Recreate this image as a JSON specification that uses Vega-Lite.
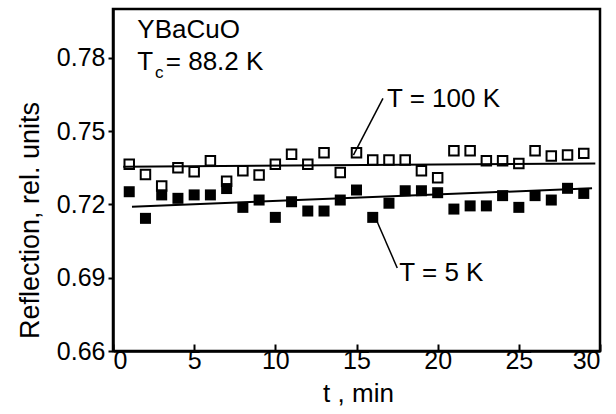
{
  "$schema": "https://vega.github.io/schema/vega-lite/v6.json",
  "width": 487,
  "height": 342,
  "autosize": {"type": "none"},
  "padding": {"left": 113, "top": 9, "right": 16, "bottom": 63},
  "background": "white",
  "config": {
    "view": {"stroke": "black", "strokeWidth": 2.5},
    "font": "Liberation Sans",
    "axis": {
      "grid": false,
      "domainColor": "black",
      "domainWidth": 2.5,
      "tickColor": "black",
      "tickWidth": 2,
      "labelColor": "black",
      "titleColor": "black",
      "labelFont": "Liberation Sans",
      "labelFontSize": 25,
      "titleFont": "Liberation Sans",
      "titleFontSize": 26,
      "titleFontWeight": "normal"
    }
  },
  "datasets": {
    "points": [
      {"series": "T = 100 K", "t": 1, "v": 0.7364}, {"series": "T = 100 K", "t": 2, "v": 0.7323},
      {"series": "T = 100 K", "t": 3, "v": 0.7275}, {"series": "T = 100 K", "t": 4, "v": 0.7350},
      {"series": "T = 100 K", "t": 5, "v": 0.7334}, {"series": "T = 100 K", "t": 6, "v": 0.7379},
      {"series": "T = 100 K", "t": 7, "v": 0.7295}, {"series": "T = 100 K", "t": 8, "v": 0.7338},
      {"series": "T = 100 K", "t": 9, "v": 0.7320}, {"series": "T = 100 K", "t": 10, "v": 0.7364},
      {"series": "T = 100 K", "t": 11, "v": 0.7405}, {"series": "T = 100 K", "t": 12, "v": 0.7364},
      {"series": "T = 100 K", "t": 13, "v": 0.7412}, {"series": "T = 100 K", "t": 14, "v": 0.7331},
      {"series": "T = 100 K", "t": 15, "v": 0.7412}, {"series": "T = 100 K", "t": 16, "v": 0.7382},
      {"series": "T = 100 K", "t": 17, "v": 0.7382}, {"series": "T = 100 K", "t": 18, "v": 0.7382},
      {"series": "T = 100 K", "t": 19, "v": 0.7338}, {"series": "T = 100 K", "t": 20, "v": 0.7309},
      {"series": "T = 100 K", "t": 21, "v": 0.7420}, {"series": "T = 100 K", "t": 22, "v": 0.7420},
      {"series": "T = 100 K", "t": 23, "v": 0.7379}, {"series": "T = 100 K", "t": 24, "v": 0.7379},
      {"series": "T = 100 K", "t": 25, "v": 0.7368}, {"series": "T = 100 K", "t": 26, "v": 0.7420},
      {"series": "T = 100 K", "t": 27, "v": 0.7398}, {"series": "T = 100 K", "t": 28, "v": 0.7402},
      {"series": "T = 100 K", "t": 29, "v": 0.7409},
      {"series": "T = 5 K", "t": 1, "v": 0.7252}, {"series": "T = 5 K", "t": 2, "v": 0.7143},
      {"series": "T = 5 K", "t": 3, "v": 0.7239}, {"series": "T = 5 K", "t": 4, "v": 0.7225},
      {"series": "T = 5 K", "t": 5, "v": 0.7239}, {"series": "T = 5 K", "t": 6, "v": 0.7239},
      {"series": "T = 5 K", "t": 7, "v": 0.7265}, {"series": "T = 5 K", "t": 8, "v": 0.7188},
      {"series": "T = 5 K", "t": 9, "v": 0.7218}, {"series": "T = 5 K", "t": 10, "v": 0.7147},
      {"series": "T = 5 K", "t": 11, "v": 0.7211}, {"series": "T = 5 K", "t": 12, "v": 0.7173},
      {"series": "T = 5 K", "t": 13, "v": 0.7173}, {"series": "T = 5 K", "t": 14, "v": 0.7218},
      {"series": "T = 5 K", "t": 15, "v": 0.7259}, {"series": "T = 5 K", "t": 16, "v": 0.7147},
      {"series": "T = 5 K", "t": 17, "v": 0.7205}, {"series": "T = 5 K", "t": 18, "v": 0.7256},
      {"series": "T = 5 K", "t": 19, "v": 0.7256}, {"series": "T = 5 K", "t": 20, "v": 0.7248},
      {"series": "T = 5 K", "t": 21, "v": 0.7181}, {"series": "T = 5 K", "t": 22, "v": 0.7194},
      {"series": "T = 5 K", "t": 23, "v": 0.7194}, {"series": "T = 5 K", "t": 24, "v": 0.7236},
      {"series": "T = 5 K", "t": 25, "v": 0.7188}, {"series": "T = 5 K", "t": 26, "v": 0.7236},
      {"series": "T = 5 K", "t": 27, "v": 0.7218}, {"series": "T = 5 K", "t": 28, "v": 0.7266},
      {"series": "T = 5 K", "t": 29, "v": 0.7245}
    ],
    "fits": [
      {"series": "T = 100 K", "t": 0.63, "v": 0.7354},
      {"series": "T = 100 K", "t": 29.71, "v": 0.7368},
      {"series": "T = 5 K", "t": 1.17, "v": 0.7191},
      {"series": "T = 5 K", "t": 29.51, "v": 0.7266}
    ],
    "leaders": [
      {"series": "T = 100 K", "t": 16.63, "v": 0.7634, "t2": 14.81, "v2": 0.7402},
      {"series": "T = 5 K", "t": 16.28, "v": 0.7128, "t2": 17.51, "v2": 0.6940}
    ],
    "labels": [
      {"t": 1.5, "v": 0.7880, "text": "YBaCuO"},
      {"t": 1.5, "v": 0.7752, "text": "T"},
      {"t": 3.25, "v": 0.7752, "text": "= 88.2 K"},
      {"t": 16.88, "v": 0.7600, "text": "T = 100 K"},
      {"t": 17.64, "v": 0.6887, "text": "T = 5 K"}
    ],
    "subscripts": [
      {"t": 2.58, "v": 0.7718, "text": "c"}
    ]
  },
  "encoding": {
    "x": {
      "field": "t",
      "type": "quantitative",
      "scale": {"domain": [0, 30], "nice": false, "zero": false},
      "axis": {
        "title": "t , min",
        "values": [0, 5, 10, 15, 20, 25, 30],
        "tickSize": -7,
        "labelPadding": 4,
        "titleX": 245,
        "titleY": 50,
        "titleBaseline": "alphabetic"
      }
    },
    "y": {
      "field": "v",
      "type": "quantitative",
      "scale": {"domain": [0.66, 0.8], "nice": false, "zero": false},
      "axis": {
        "title": "Reflection, rel. units",
        "values": [0.66, 0.69, 0.72, 0.75, 0.78],
        "format": ".2f",
        "tickSize": 5,
        "labelPadding": 3,
        "titleFontSize": 27,
        "titleX": -83,
        "titleY": 211,
        "titleAngle": -90,
        "titleAlign": "center",
        "titleBaseline": "middle"
      }
    }
  },
  "layer": [
    {
      "data": {"name": "fits"},
      "mark": {"type": "line", "color": "black", "strokeWidth": 2},
      "encoding": {"detail": {"field": "series"}}
    },
    {
      "data": {"name": "points"},
      "transform": [{"filter": "datum.series === 'T = 100 K'"}],
      "mark": {"type": "point", "shape": "square", "filled": false, "size": 90, "stroke": "black", "strokeWidth": 2, "opacity": 1}
    },
    {
      "data": {"name": "points"},
      "transform": [{"filter": "datum.series === 'T = 5 K'"}],
      "mark": {"type": "point", "shape": "square", "filled": true, "size": 121, "color": "black", "opacity": 1}
    },
    {
      "data": {"name": "leaders"},
      "mark": {"type": "rule", "color": "black", "strokeWidth": 1.5},
      "encoding": {
        "x2": {"field": "t2"},
        "y2": {"field": "v2"}
      }
    },
    {
      "data": {"name": "labels"},
      "mark": {"type": "text", "align": "left", "baseline": "alphabetic", "fontSize": 26, "font": "Liberation Sans", "color": "black"},
      "encoding": {"text": {"field": "text"}}
    },
    {
      "data": {"name": "subscripts"},
      "mark": {"type": "text", "align": "left", "baseline": "alphabetic", "fontSize": 17, "font": "Liberation Sans", "color": "black"},
      "encoding": {"text": {"field": "text"}}
    }
  ]
}
